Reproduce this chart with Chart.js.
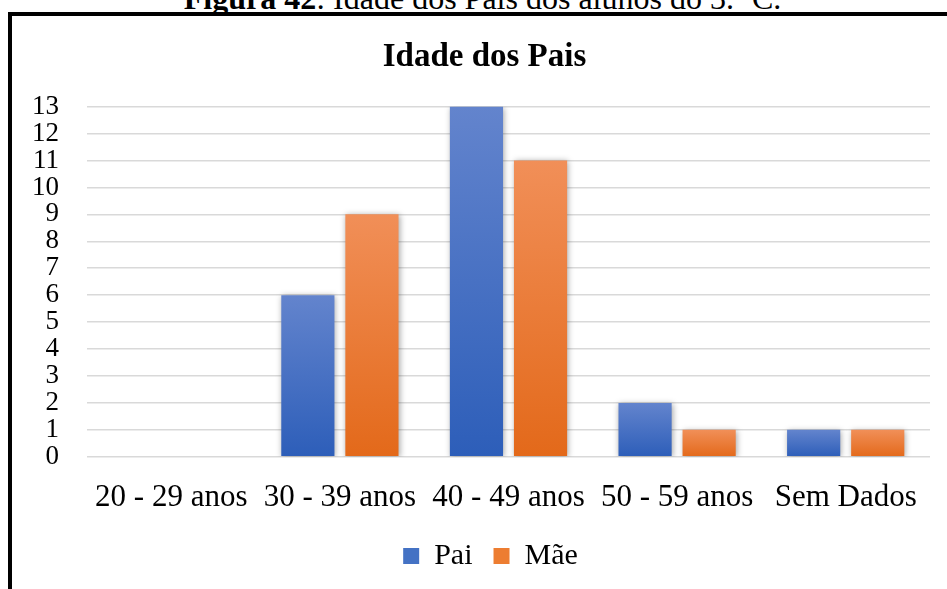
<!DOCTYPE html>
<html>
<head>
<meta charset="utf-8">
<script src="https://cdn.jsdelivr.net/npm/chart.js@4"></script>
<style>
    html, body { margin: 0; padding: 0; background: #fff; overflow: hidden; }
    #wrap { position: absolute; left: 0; top: 0; width: 947px; height: 589px; }
    #caption {
        position: absolute; left: 9px; top: -18px; width: 947px;
        text-align: center; font: 32px/32px "Liberation Serif", "Times New Roman", serif; color: #000;
        white-space: nowrap;
    }
    #frame {
        position: absolute; left: 8px; top: 12px; width: 2000px; height: 2000px;
        border-top: 4px solid #000; border-left: 4px solid #000;
    }
</style>
</head>
<body>
<div id="caption"><b>Figura 42</b>: Idade dos Pais dos alunos do 3.º C.</div>
<div id="frame"></div>
<div id="wrap"><canvas id="chartIdade"></canvas></div>
<script>
// Dados
const faixas = ["20 - 29 anos", "30 - 39 anos", "40 - 49 anos", "50 - 59 anos", "Sem Dados"];
const pai = [0, 6, 13, 2, 1];
const mae = [0, 9, 11, 1, 1];
const yTicks = [0, 1, 2, 3, 4, 5, 6, 7, 8, 9, 10, 11, 12, 13];

const serif = "'Liberation Serif', 'Times New Roman', serif";

// degradê vertical em cada barra (claro em cima, escuro em baixo)
function gradiente(c, topo, base, solido) {
    if (c.type !== "data" || !c.chart.chartArea) return solido;
    const y = c.chart.scales.y;
    const y0 = y.getPixelForValue(0);
    const y1 = y.getPixelForValue(c.raw);
    if (Math.abs(y0 - y1) < 1) return solido;
    const g = c.chart.ctx.createLinearGradient(0, y1, 0, y0);
    g.addColorStop(0, topo);
    g.addColorStop(1, base);
    return g;
}

// sombra suave nas barras
const sombra = {
    id: "sombra",
    beforeDatasetsDraw(chart) {
        const ctx = chart.ctx;
        ctx.save();
        ctx.shadowColor = "rgba(0,0,0,0.35)";
        ctx.shadowBlur = 6;
        ctx.shadowOffsetX = 1;
        ctx.shadowOffsetY = 1;
    },
    afterDatasetsDraw(chart) {
        chart.ctx.restore();
    },
};

// título e legenda centrados na moldura e não na área útil
const centrar = {
    id: "centrar",
    afterLayout(chart) {
        if (chart.titleBlock) chart.titleBlock.left += 27;
        const lg = chart.legend;
        if (lg) {
            lg.left += 39;
            const h = lg.height;
            lg.top = 520;
            lg.bottom = lg.top + h;
        }
    },
};

new Chart(document.getElementById("chartIdade"), {
    type: "bar",
    data: {
        labels: faixas,
        datasets: [
            {
                label: "Pai",
                data: pai,
                backgroundColor: (c) => gradiente(c, "#6384CD", "#2D5EB9", "#4472C4"),
                borderWidth: 0,
            },
            {
                label: "Mãe",
                data: mae,
                backgroundColor: (c) => gradiente(c, "#F18F58", "#E3691A", "#ED7D31"),
                borderWidth: 0,
            },
        ],
    },
    plugins: [sombra, centrar],
    options: {
        responsive: true,
        maintainAspectRatio: false,
        animation: false,
        categoryPercentage: 0.76,
        barPercentage: 0.83,
        layout: { padding: { left: 12, right: 17, top: 0, bottom: 7 } },
        scales: {
            y: {
                min: 0,
                max: 13,
                afterFit: (s) => { s.width = 75; },
                afterBuildTicks: (s) => { s.ticks = yTicks.map((v) => ({ value: v })); },
                ticks: {
                    stepSize: 1,
                    autoSkip: false,
                    padding: 28,
                    color: "#000",
                    font: { family: serif, size: 27 },
                },
                grid: { color: "#D9D9D9", lineWidth: 1.5, drawTicks: false },
                border: { display: false },
            },
            x: {
                ticks: {
                    padding: 22,
                    color: "#000",
                    maxRotation: 0,
                    autoSkip: false,
                    font: { family: serif, size: 31 },
                },
                grid: { display: false, drawTicks: false },
                border: { display: false },
            },
        },
        plugins: {
            title: {
                display: true,
                text: "Idade dos Pais",
                color: "#000",
                font: { family: serif, size: 33, weight: "bold" },
                padding: { top: 38, bottom: 29 },
            },
            legend: {
                position: "bottom",
                maxHeight: 44,
                labels: {
                    color: "#000",
                    boxWidth: 16,
                    boxHeight: 16,
                    padding: 21,
                    font: { family: serif, size: 30 },
                },
            },
            tooltip: { enabled: false },
        },
    },
});
</script>
</body>
</html>
